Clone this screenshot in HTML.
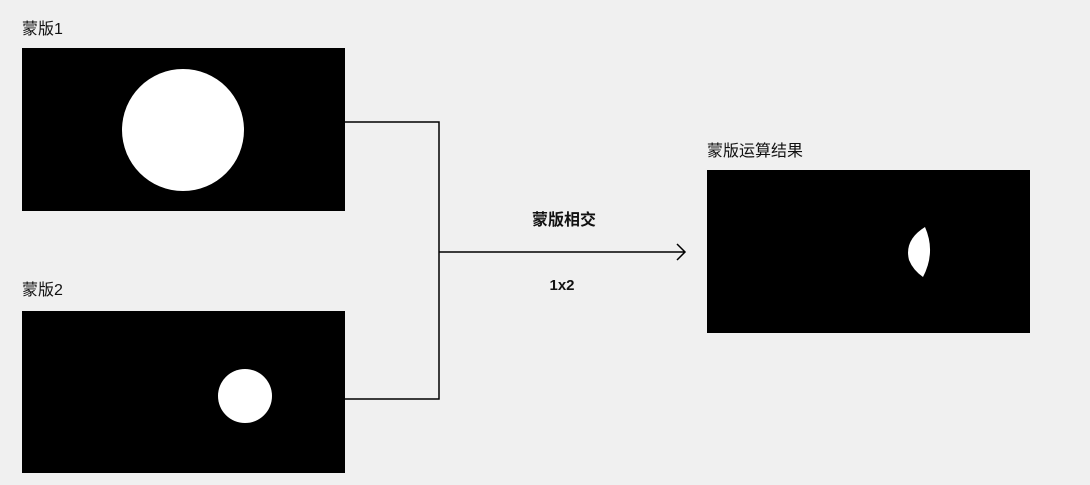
<!DOCTYPE html>
<html><head><meta charset="utf-8"><style>
body{margin:0;background:#f0f0f0;width:1090px;height:485px;overflow:hidden}
</style></head><body>
<svg width="1090" height="485" xmlns="http://www.w3.org/2000/svg" style="display:block;font-family:'Liberation Sans','Noto Sans CJK SC',sans-serif">
<rect width="1090" height="485" fill="#f0f0f0"/>
<text x="22" y="34" font-size="16" fill="#111">蒙版1</text>
<rect x="22" y="48" width="323" height="163" fill="#000"/>
<circle cx="183" cy="130" r="61" fill="#fff"/>
<text x="22" y="295" font-size="16" fill="#111">蒙版2</text>
<rect x="22" y="311" width="323" height="162" fill="#000"/>
<circle cx="245" cy="396" r="27" fill="#fff"/>
<path d="M345 122H439V399H345M439 252H685M677 244L685 252L677 260" fill="none" stroke="#000" stroke-width="1.5"/>
<text x="564" y="225" font-size="16" font-weight="bold" text-anchor="middle" fill="#111">蒙版相交</text>
<text x="562" y="290" font-size="15" font-weight="bold" text-anchor="middle" fill="#111">1x2</text>
<text x="707" y="156" font-size="16" fill="#111">蒙版运算结果</text>
<rect x="707" y="170" width="323" height="163" fill="#000"/>
<path d="M925 227Q904 240 909 260Q913 270 923 277Q936 252 925 227Z" fill="#fff"/>
</svg>
</body></html>
